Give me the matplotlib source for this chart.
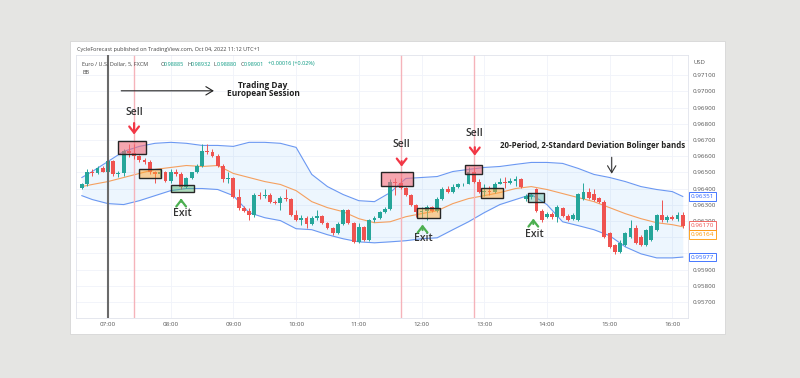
import numpy as np
import matplotlib.pyplot as plt
import matplotlib as mpl
from matplotlib.patches import Rectangle

mpl.rcParams['font.family'] = ['Open Sans', 'DejaVu Sans']

# EUR/USD 5-minute candles, x = minutes after 07:00
minutes = list(range(-25, 555, 5))
opens = [.96406, .96425, .96505, .96493, .96524,
         .96505, .96567, .96487, .96493, .96629, .96617, .96598, .96573, .96561, .96499, .96487, .96499,
         .96449, .96505, .96487, .96412, .96462, .96499, .96536, .96629, .96623, .96598, .96536, .96456,
         .96462, .96350, .96282, .96263, .96239, .96363, .96356, .96363, .96319, .96313, .96344, .96338,
         .96239, .96208, .96220, .96183, .96220, .96232, .96189, .96158, .96127, .96183, .96270, .96189,
         .96071, .96164, .96084, .96208, .96220, .96257, .96276, .96443, .96437, .96406, .96363, .96301,
         .96257, .96263, .96288, .96263, .96338, .96400, .96381, .96412, .96425, .96431, .96505, .96443,
         .96381, .96387, .96381, .96431, .96443, .96437, .96449, .96456, .96338, .96350, .96394, .96263,
         .96226, .96245, .96226, .96282, .96232, .96214, .96208, .96338, .96381, .96369, .96344, .96319,
         .96127, .96053, .96009, .96053, .96102, .96158, .96102, .96053, .96084, .96146, .96239, .96208,
         .96226, .96214, .96239]
highs = [.96437, .96518, .96518, .96542, .96536,
         .96580, .96573, .96511, .96641, .96672, .96672, .96604, .96586, .96573, .96511, .96518, .96511,
         .96518, .96518, .96499, .96474, .96505, .96549, .96672, .96672, .96641, .96610, .96549, .96499,
         .96474, .96394, .96294, .96282, .96375, .96381, .96394, .96375, .96332, .96356, .96394, .96344,
         .96270, .96239, .96232, .96232, .96270, .96239, .96195, .96164, .96195, .96276, .96276, .96195,
         .96189, .96171, .96214, .96232, .96263, .96288, .96456, .96468, .96468, .96412, .96369, .96307,
         .96288, .96301, .96294, .96350, .96412, .96418, .96425, .96437, .96437, .96530, .96530, .96456,
         .96425, .96418, .96443, .96468, .96474, .96462, .96480, .96462, .96369, .96375, .96406, .96276,
         .96257, .96257, .96301, .96288, .96245, .96251, .96375, .96437, .96406, .96400, .96350, .96332,
         .96133, .96059, .96084, .96133, .96208, .96177, .96115, .96152, .96177, .96245, .96332, .96239,
         .96239, .96257, .96257]
lows = [.96394, .96418, .96480, .96487, .96499,
        .96499, .96480, .96474, .96480, .96592, .96580, .96561, .96549, .96487, .96437, .96474, .96443,
        .96437, .96480, .96394, .96406, .96456, .96493, .96530, .96610, .96592, .96530, .96443, .96437,
        .96344, .96270, .96257, .96208, .96226, .96338, .96344, .96313, .96307, .96270, .96325, .96232,
        .96202, .96177, .96158, .96177, .96208, .96183, .96152, .96115, .96121, .96177, .96183, .96065,
        .96065, .96078, .96078, .96195, .96214, .96251, .96270, .96363, .96394, .96356, .96294, .96226,
        .96220, .96208, .96257, .96257, .96332, .96375, .96375, .96406, .96418, .96425, .96437, .96375,
        .96356, .96363, .96375, .96425, .96406, .96425, .96418, .96406, .96325, .96338, .96257, .96195,
        .96220, .96214, .96195, .96226, .96202, .96208, .96202, .96332, .96338, .96325, .96313, .96096,
        .96034, .95997, .96003, .96047, .96096, .96059, .96047, .96047, .96078, .96140, .96195, .96195,
        .96208, .96202, .96158]
closes = [.96425, .96505, .96493, .96524, .96505,
          .96567, .96487, .96493, .96629, .96617, .96598, .96573, .96561, .96499, .96487, .96499, .96449,
          .96505, .96487, .96412, .96462, .96499, .96536, .96629, .96623, .96598, .96536, .96456, .96462,
          .96350, .96282, .96263, .96239, .96363, .96356, .96363, .96319, .96313, .96344, .96338, .96239,
          .96208, .96220, .96183, .96220, .96232, .96189, .96158, .96127, .96183, .96270, .96189, .96071,
          .96164, .96084, .96208, .96220, .96257, .96276, .96443, .96437, .96406, .96363, .96301, .96257,
          .96263, .96288, .96263, .96338, .96400, .96381, .96412, .96425, .96431, .96505, .96443, .96381,
          .96387, .96381, .96431, .96443, .96437, .96449, .96456, .96412, .96356, .96363, .96263, .96208,
          .96245, .96226, .96288, .96232, .96208, .96239, .96369, .96381, .96344, .96332, .96319, .96102,
          .96040, .96009, .96065, .96127, .96158, .96065, .96053, .96146, .96171, .96239, .96208, .96226,
          .96214, .96239, .96170]

# Bollinger bands (20, 2) read every 15 minutes
band_minutes = [-25, -15] + list(range(0, 541, 15)) + [550]
upper = [.96468, .96505, .96567, .96629, .96660, .96679, .96685, .96679, .96666, .96666,
         .96660, .96685, .96685, .96679, .96654, .96487, .96412, .96363, .96325, .96319,
         .96375, .96462, .96468, .96474, .96505, .96518, .96530, .96536, .96549, .96561,
         .96561, .96555, .96524, .96487, .96468, .96443, .96412, .96394, .96381, .96351]
basis = [.96412, .96425, .96443, .96468, .96493, .96518, .96530, .96542, .96536, .96542,
         .96493, .96468, .96443, .96425, .96387, .96319, .96282, .96257, .96214, .96189,
         .96195, .96226, .96245, .96263, .96307, .96338, .96356, .96375, .96400, .96412,
         .96394, .96369, .96344, .96319, .96282, .96245, .96214, .96189, .96177, .96164]
lower = [.96356, .96332, .96307, .96301, .96325, .96356, .96387, .96400, .96400, .96394,
         .96356, .96251, .96220, .96202, .96152, .96146, .96115, .96090, .96071, .96065,
         .96071, .96078, .96090, .96096, .96146, .96195, .96251, .96301, .96332, .96363,
         .96301, .96195, .96171, .96146, .96109, .96040, .95997, .95972, .95972, .95977]

hour_ticks = list(range(0, 541, 60))
hour_labels = ["07:00", "08:00", "09:00", "10:00", "11:00", "12:00", "13:00", "14:00", "15:00", "16:00"]
price_ticks = [0.957 + 0.001 * k for k in range(15)]
hidden_ticks = ["0.96100", "0.96000"]  # covered by the value tags

# signal boxes: (start min, end min, low, high, kind)
boxes = [(10, 36, .96615, .96693, 'sell'), (30, 51, .96466, .96518, 'exit'),
         (60, 82, .96377, .96423, 'green'), (261, 292, .96418, .96501, 'sell'),
         (296, 318, .96218, .96280, 'exit'), (342, 358, .96491, .96547, 'sell'),
         (357, 378, .96342, .96404, 'exit'), (402, 417, .96315, .96372, 'teal')]
sells = [(25, .96871, .96821, .96716), (281, .96672, .96586, .96518), (351, .96741, .96672, .96586)]
exits = [(70, .96245, .96301, .96356), (301, .96090, .96127, .96195), (407, .96115, .96164, .96232)]

fill = {'sell': (0.94, 0.42, 0.48, 0.6), 'exit': (1.0, 0.65, 0.2, 0.5),
        'green': (0.3, 0.7, 0.4, 0.45), 'teal': (0.3, 0.7, 0.6, 0.4)}

fig = plt.figure(figsize=(8, 3.78), dpi=100)
fig.patch.set_facecolor('#e5e5e3')
fig.patches.append(Rectangle((70 / 800, 1 - 334 / 378), 655 / 800, 293 / 378, zorder=-10,
                             transform=fig.transFigure, fc='white', ec='#d6d6d6', lw=0.6))
ax = fig.add_axes([76 / 800, 1 - 318 / 378, 612 / 800, 263 / 378])
ax.set_facecolor('white')

o = np.array(opens)
c = np.array(closes)
col = np.where(c >= o, '#26a69a', '#ef5350')

ax.fill_between(band_minutes, lower, upper, color='#2196f3', alpha=0.08, lw=0, zorder=1)
ax.plot(band_minutes, upper, color='#6b98f2', lw=0.8, zorder=2)
ax.plot(band_minutes, lower, color='#6b98f2', lw=0.8, zorder=2)
ax.plot(band_minutes, basis, color='#f5a05f', lw=0.8, zorder=2)

for m in [25, 280, 350]:
    ax.axvline(m, color='#f5b3ba', lw=1.0, zorder=2)

ax.vlines(minutes, lows, highs, colors=col, lw=0.7, zorder=3)
ax.bar(minutes, np.maximum(np.abs(c - o), 0.00002), bottom=np.minimum(o, c),
       width=3.7, color=col, lw=0, zorder=4)
ax.axvline(0, color='#6a6a6a', lw=1.5, zorder=5)

for m0, m1, lo, hi, kind in boxes:
    ax.add_patch(Rectangle((m0, lo), m1 - m0, hi - lo, fc=fill[kind], ec='#262626', lw=1.0, zorder=6))

for m, ty, y0, y1 in sells:
    ax.text(m, ty, "Sell", ha='center', va='center', fontsize=7.5, weight='semibold', color='#333333', zorder=7)
    ax.annotate('', xy=(m, y1), xytext=(m, y0), zorder=7,
                arrowprops=dict(arrowstyle='->,head_length=0.45,head_width=0.35', color='#f23645', lw=1.6))
for m, ty, y0, y1 in exits:
    ax.text(m + 1, ty, "Exit", ha='center', va='center', fontsize=7.5, weight='semibold', color='#333333', zorder=7)
    ax.annotate('', xy=(m, y1), xytext=(m, y0), zorder=7,
                arrowprops=dict(arrowstyle='->,head_length=0.45,head_width=0.35', color='#4caf50', lw=1.6))

ax.annotate('', xy=(104, .97003), xytext=(10, .97003),
            arrowprops=dict(arrowstyle='->,head_length=0.5,head_width=0.3', color='#222222', lw=0.8))
ax.text(148, .97034, "Trading Day", ha='center', va='center', fontsize=6, weight='bold', color='#222222')
ax.text(149, .96986, "European Session", ha='center', va='center', fontsize=6, weight='bold', color='#222222')
ax.text(464, .96666, "20-Period, 2-Standard Deviation Bolinger bands", ha='center', va='center',
        fontsize=5.7, weight='bold', color='#222222')
ax.annotate('', xy=(482, .96474), xytext=(482, .96610),
            arrowprops=dict(arrowstyle='->,head_length=0.5,head_width=0.3', color='#333333', lw=0.8))

ax.set_xlim(-30.6, 555)
ax.set_ylim(0.95601, 0.97224)
ax.set_xticks(hour_ticks)
ax.set_xticklabels(hour_labels)
ax.set_yticks(price_ticks)
ax.set_yticklabels(["" if f"{p:.5f}" in hidden_ticks else f"{p:.5f}" for p in price_ticks])
ax.yaxis.tick_right()
ax.tick_params(axis='x', length=0, pad=3, labelsize=4.5, labelcolor='#555555')
ax.tick_params(axis='y', length=0, pad=3.5, labelsize=4.5, labelcolor='#555555')
ax.grid(color='#f0f3fa', lw=0.6, zorder=0)
ax.set_axisbelow(True)
for s in ax.spines.values():
    s.set_color('#e0e3eb')
    s.set_linewidth(0.6)

# last value labels on the price scale
tags = [(.96351, .96351, '#2962ff'), (.96170, .96170, '#ef5350'),
        (.96115, .96164, '#ff9800'), (.95977, .95977, '#2962ff')]
for ypos, val, colr in tags:
    ax.text(1.004, ypos, f"{val:.5f}", transform=ax.get_yaxis_transform(), ha='left', va='center',
            fontsize=4.5, color=colr, zorder=8, clip_on=False,
            bbox=dict(boxstyle='square,pad=0.3', fc='white', ec=colr, lw=0.6))

def px(x, y):
    return x / 800, 1 - y / 378

fig.text(*px(77, 49), "CycleForecast published on TradingView.com, Oct 04, 2022 11:12 UTC+1",
         fontsize=4, color='#444444', va='center')
fig.text(*px(693, 63), "USD", fontsize=4.3, color='#555555', va='center')
fig.text(*px(82.5, 64), "Euro / U.S. Dollar, 5, FXCM", fontsize=4, color='#444444', va='center')
legend_parts = [(160.5, "O", '#444444'), (164, "0.98885", '#089981'), (187, "H", '#444444'),
                (190.5, "0.98932", '#089981'), (213.5, "L", '#444444'), (216.5, "0.98880", '#089981'),
                (240.5, "C", '#444444'), (244, "0.98901", '#089981'), (267.5, "+0.00016 (+0.02%)", '#089981')]
for x, t, colr in legend_parts:
    fig.text(*px(x, 64), t, fontsize=4, color=colr, va='center')
fig.text(*px(82.5, 72), "BB", fontsize=4, color='#444444', va='center')

fig.savefig("out.png", dpi=100, facecolor=fig.get_facecolor())
